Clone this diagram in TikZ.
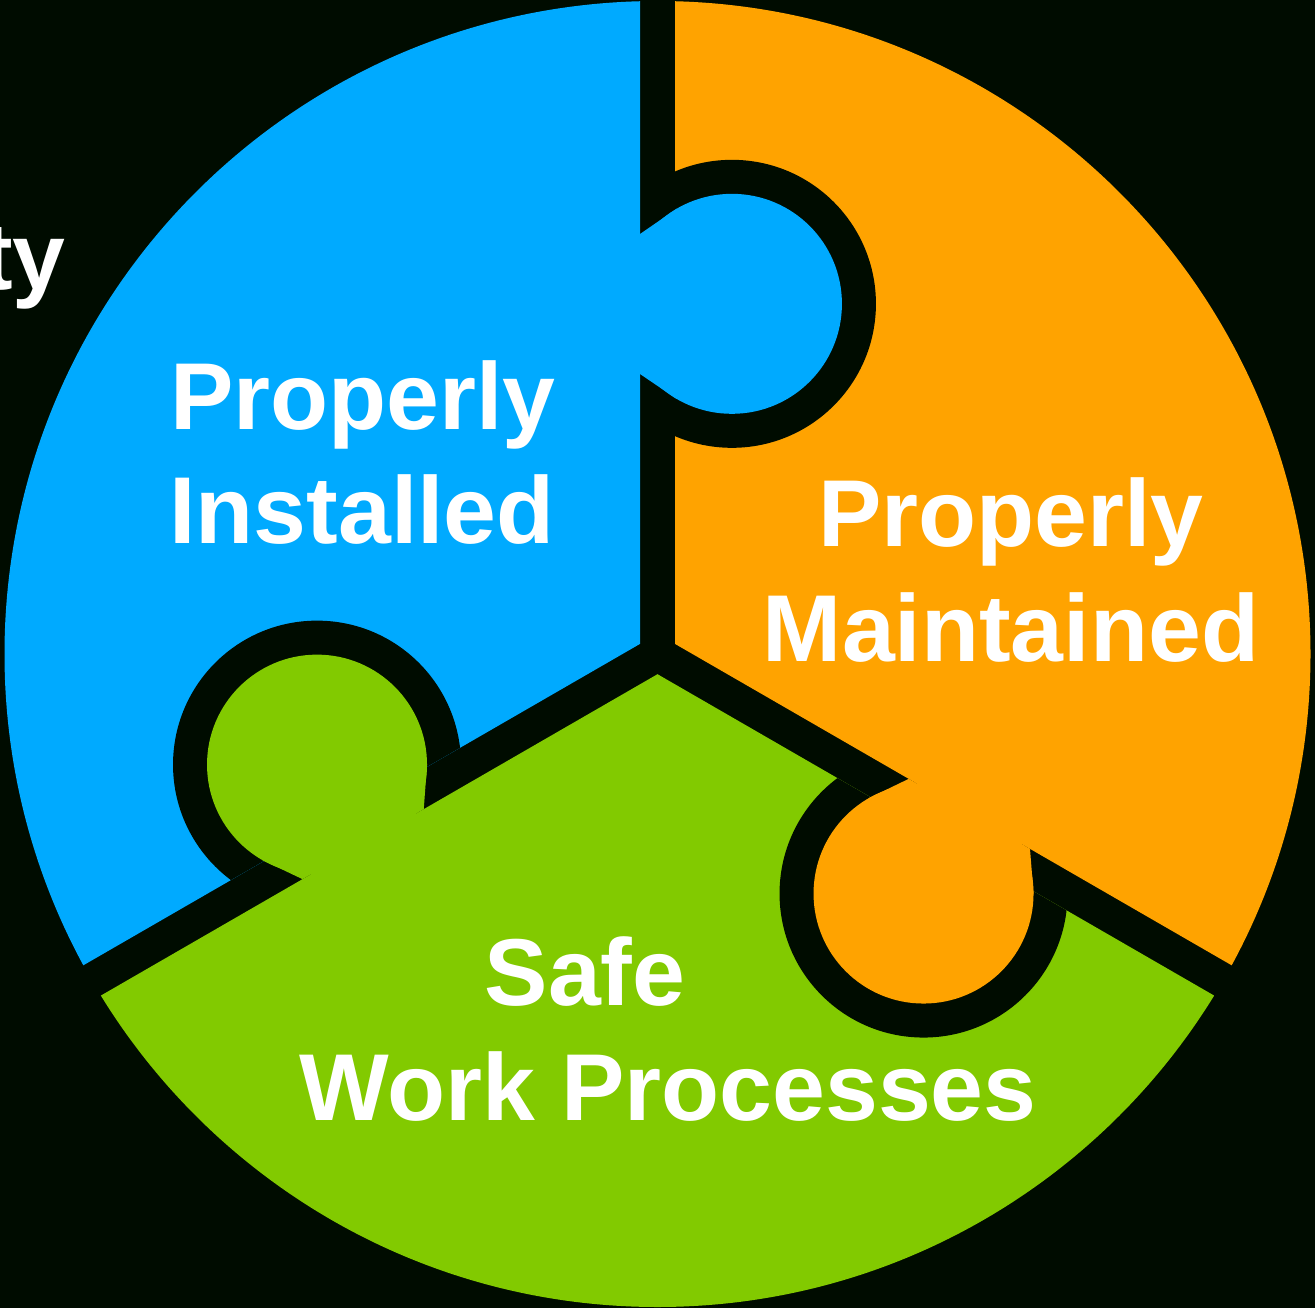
\documentclass[tikz,border=0pt]{standalone}
\usepackage{fontspec}
\setmainfont{Liberation Sans}
\usetikzlibrary{calc}
\definecolor{bgblack}{RGB}{0,12,0}
\definecolor{pblue}{RGB}{0,170,255}
\definecolor{porange}{RGB}{255,163,0}
\definecolor{pgreen}{RGB}{130,202,0}
\tikzset{
  lbl/.style={text=white, font=\fontsize{95}{114}\selectfont\bfseries, inner sep=0pt, anchor=base},
  holefill/.style={fill=bgblack},
}
\begin{document}
\begin{tikzpicture}[x=1pt,y=-1pt]
\useasboundingbox (0,0) rectangle (1315,1308);
\clip (0,0) rectangle (1315,1308);
\fill[bgblack] (0,0) rectangle (1315,1308);
\coordinate (C) at (657.5,654);
\coordinate (Ab) at ($(C)+(210:20.2)$);
\coordinate (Ao) at ($(C)+(330:20.2)$);
\coordinate (Ag) at ($(C)+(90:20.2)$);
% pieces
\begin{scope}
  \clip (C) circle[radius=653];
  \fill[pblue] (Ab) -- ($(Ab)+(150:3000)$) -- ($(Ab)+(210:3000)$) -- ($(Ab)+(270:3000)$) -- cycle;
  \fill[porange] (Ao) -- ($(Ao)+(270:3000)$) -- ($(Ao)+(330:3000)$) -- ($(Ao)+(390:3000)$) -- cycle;
  \fill[pgreen] (Ag) -- ($(Ag)+(30:3000)$) -- ($(Ag)+(90:3000)$) -- ($(Ag)+(150:3000)$) -- cycle;
\end{scope}
% knob centres
\coordinate (K1) at ($(C)+(282:358)$);
\coordinate (K2) at ($(C)+(162:358)$);
\coordinate (K3) at ($(C)+(42:358)$);
% holes
\begin{scope}
  \clip (Ao) -- ($(Ao)+(270:3000)$) -- ($(Ao)+(330:3000)$) -- ($(Ao)+(390:3000)$) -- cycle;
  \fill[holefill] (K1) circle[radius=144];
\end{scope}
\begin{scope}
  \clip (Ab) -- ($(Ab)+(150:3000)$) -- ($(Ab)+(210:3000)$) -- ($(Ab)+(270:3000)$) -- cycle;
  \fill[holefill] (K2) circle[radius=144];
\end{scope}
\begin{scope}
  \clip (Ag) -- ($(Ag)+(30:3000)$) -- ($(Ag)+(90:3000)$) -- ($(Ag)+(150:3000)$) -- cycle;
  \fill[holefill] (K3) circle[radius=144];
\end{scope}
% knobs
\fill[pblue] (K1) circle[radius=110];
\fill[pblue] ($(C)+(270:280)+(180:17.5)$) -- ($(K1)+(120:110)$) -- ($(K1)+(240:110)$) -- ($(C)+(270:420)+(180:17.5)$) -- cycle;
\fill[pgreen] (K2) circle[radius=110];
\fill[pgreen] ($(C)+(150:280)+(60:17.5)$) -- ($(K2)+(0:110)$) -- ($(K2)+(120:110)$) -- ($(C)+(150:420)+(60:17.5)$) -- cycle;
\fill[porange] (K3) circle[radius=110];
\fill[porange] ($(C)+(30:280)+(-60:17.5)$) -- ($(K3)+(-120:110)$) -- ($(K3)+(0:110)$) -- ($(C)+(30:420)+(-60:17.5)$) -- cycle;
% labels
\node[lbl] (pi1) at (363,429) {Properly};
\node[lbl] (pi2) at (362,543) {Installed};
\node[lbl] (pm1) at (1011,546) {Properly};
\node[lbl] (pm2) at (1011,661) {Maintained};
\node[lbl] (sw1) at (585,1005) {Safe};
\node[lbl] (sw2) at (668,1120) {Work Processes};
\node[lbl, anchor=base east] (ty) at (66,290) {ty};
\end{tikzpicture}
\end{document}
